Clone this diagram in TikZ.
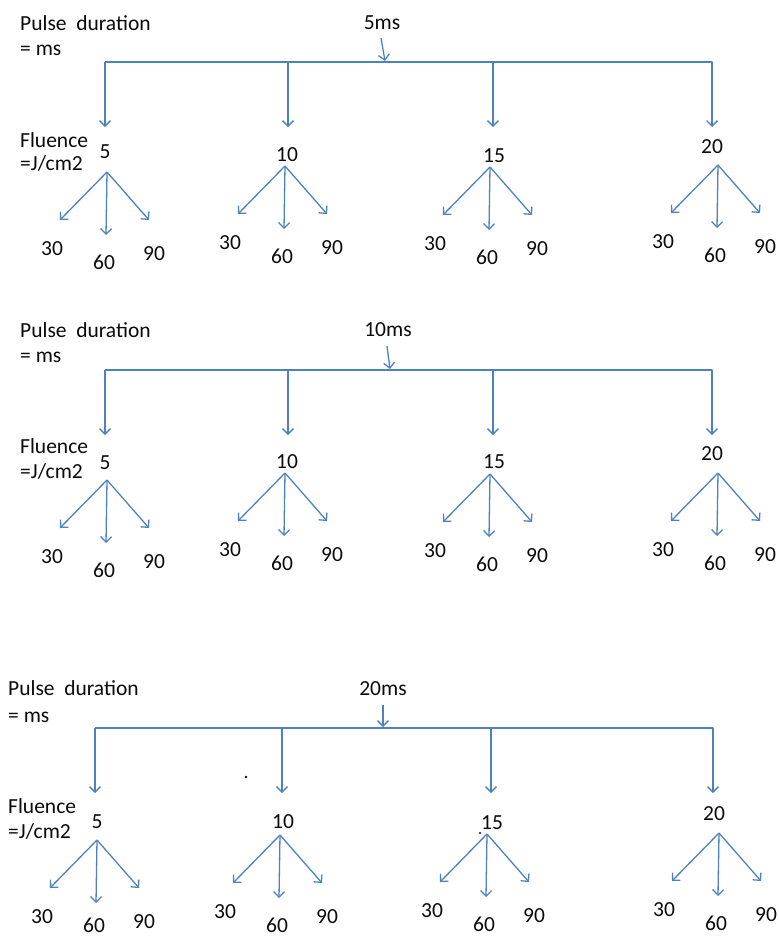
\documentclass[tikz,border=0pt]{standalone}
\usepackage{fontspec}
\setmainfont{Carlito}
\usetikzlibrary{arrows.meta,calc}
\definecolor{lineblue}{RGB}{79,129,189}
\definecolor{txt}{RGB}{10,10,10}

\newcommand\myfan[5][90]{%
  \node[lbl] (#2) at (#4) {#3};
  \coordinate (#2a) at (#5);
  \coordinate (#2l) at ($(#2a)+(-47,48)$);
  \coordinate (#2m) at ($(#2a)+(-1,63)$);
  \coordinate (#2r) at ($(#2a)+(42,48)$);
  \draw[arr] (#2a) -- (#2l);
  \draw[arr] (#2a) -- (#2m);
  \draw[arr] (#2a) -- (#2r);
  \node[lbl] (#2t) at ($(#2a)+(-55,77)$) {30};
  \node[lbl] (#2s) at ($(#2a)+(-3,#1)$) {60};
  \node[lbl] (#2n) at ($(#2a)+(47,82)$) {90};
}
\newcommand\mybar[7]{%
  \coordinate (#1a) at (#3,#2); \coordinate (#1ae) at (#3,#7);
  \coordinate (#1b) at (#4,#2); \coordinate (#1be) at (#4,#7);
  \coordinate (#1c) at (#5,#2); \coordinate (#1ce) at (#5,#7);
  \coordinate (#1d) at (#6,#2); \coordinate (#1de) at (#6,#7);
  \draw[arr] (#1a) -- (#1d) -- (#1de);
  \draw[arr] (#1a) -- (#1ae);
  \draw[arr] (#1b) -- (#1be);
  \draw[arr] (#1c) -- (#1ce);
}

\begin{document}
\begin{tikzpicture}[x=1pt,y=-1pt,
  conn/.style={draw=lineblue,line width=1.3pt,line join=round},
  arr/.style={conn,-{Straight Barb[length=5.5pt,width=11pt]}},
  lbl/.style={inner sep=0pt,text=txt,font=\fontsize{21.5}{26}\selectfont},
  side/.style={lbl,anchor=base west}]
\useasboundingbox (0,0) rectangle (779,938);

% ---------- block 1 ----------
\node[side] (p1) at (20,30) {Pulse\hspace{0.45em}duration};
\node[side] (m1) at (20,55) {= ms};
\node[lbl] (d1) at (382,23) {5ms};
\coordinate (d1s) at (381,38);
\coordinate (d1e) at (385,61);
\draw[arr] (d1s) -- (d1e);
\mybar{B1}{62}{105}{288}{493}{712}{127}
\node[side] (f1) at (20,147) {Fluence};
\node[side] (j1) at (20,170) {=J/cm2};
\myfan{A5}{5}{105,152}{107,172}
\myfan{A10}{10}{287,155}{285,166}
\myfan{A15}{15}{494,156}{490,167}
\myfan{A20}{20}{712,147}{718,165}

% ---------- block 2 ----------
\node[side] (p2) at (20,337) {Pulse\hspace{0.45em}duration};
\node[side] (m2) at (20,362) {= ms};
\node[lbl] (d2) at (388,330) {10ms};
\coordinate (d2s) at (387,346);
\coordinate (d2e) at (390,369);
\draw[arr] (d2s) -- (d2e);
\mybar{B2}{370}{105}{288}{493}{712}{435}
\node[side] (f2) at (20,453) {Fluence};
\node[side] (j2) at (20,478) {=J/cm2};
\myfan{C5}{5}{105,463}{107,480}
\myfan{C10}{10}{287,462}{285,473}
\myfan{C15}{15}{494,462}{490,474}
\myfan{C20}{20}{712,454}{718,473}

% ---------- block 3 ----------
\node[side] (p3) at (8,695) {Pulse\hspace{0.45em}duration};
\node[side] (m3) at (8,722) {= ms};
\node[lbl] (d3) at (383,689) {20ms};
\coordinate (d3s) at (383,705);
\coordinate (d3e) at (383,727);
\draw[arr] (d3s) -- (d3e);
\mybar{B3}{728}{95}{282}{491}{713}{793}
\node[side] (f3) at (8,813) {Fluence};
\node[side] (j3) at (8,838) {=J/cm2};
\myfan[85]{E5}{5}{97,822}{97,840}
\myfan{E10}{10}{283,822}{280,835}
\myfan{E15}{15}{492,823}{487,834}
\myfan{E20}{20}{714,814}{719,833}

% stray dots
\fill[txt] (246,777) circle (1.3);
\fill[txt] (480,833) circle (1.1);
\end{tikzpicture}
\end{document}
